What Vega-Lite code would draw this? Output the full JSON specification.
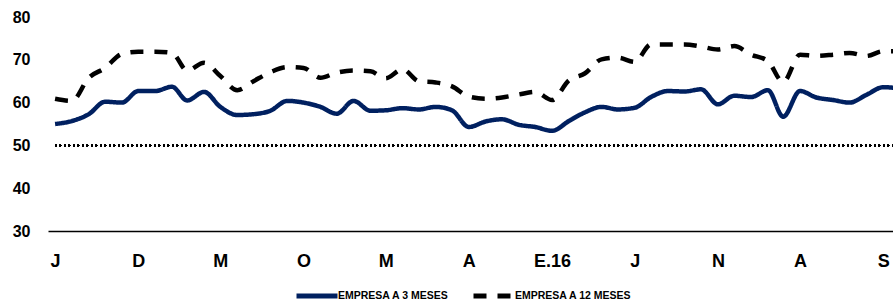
{
  "$schema": "https://vega.github.io/schema/vega-lite/v6.json",
  "width": 845,
  "height": 214,
  "autosize": {"type": "none"},
  "padding": {"left": 48, "top": 17, "right": 0, "bottom": 73},
  "background": "white",
  "config": {
    "view": {"stroke": null},
    "font": "Liberation Sans",
    "axis": {"grid": false, "ticks": false, "labelColor": "black", "labelFontWeight": "bold", "title": null}
  },
  "data": {
    "values": [
      {"mes": "2013/07/01", "EMPRESA A 3 MESES": 55.0, "EMPRESA A 12 MESES": 60.9},
      {"mes": "2013/08/01", "EMPRESA A 3 MESES": 55.7, "EMPRESA A 12 MESES": 60.4},
      {"mes": "2013/09/01", "EMPRESA A 3 MESES": 57.3, "EMPRESA A 12 MESES": 65.8},
      {"mes": "2013/10/01", "EMPRESA A 3 MESES": 60.2, "EMPRESA A 12 MESES": 68.1},
      {"mes": "2013/11/01", "EMPRESA A 3 MESES": 60.0, "EMPRESA A 12 MESES": 71.4},
      {"mes": "2013/12/01", "EMPRESA A 3 MESES": 62.7, "EMPRESA A 12 MESES": 71.9},
      {"mes": "2014/01/01", "EMPRESA A 3 MESES": 62.7, "EMPRESA A 12 MESES": 71.9},
      {"mes": "2014/02/01", "EMPRESA A 3 MESES": 63.7, "EMPRESA A 12 MESES": 71.6},
      {"mes": "2014/03/01", "EMPRESA A 3 MESES": 60.5, "EMPRESA A 12 MESES": 67.5},
      {"mes": "2014/04/01", "EMPRESA A 3 MESES": 62.5, "EMPRESA A 12 MESES": 69.3},
      {"mes": "2014/05/01", "EMPRESA A 3 MESES": 59.0, "EMPRESA A 12 MESES": 66.2},
      {"mes": "2014/06/01", "EMPRESA A 3 MESES": 57.1, "EMPRESA A 12 MESES": 62.9},
      {"mes": "2014/07/01", "EMPRESA A 3 MESES": 57.3, "EMPRESA A 12 MESES": 65.0},
      {"mes": "2014/08/01", "EMPRESA A 3 MESES": 58.1, "EMPRESA A 12 MESES": 67.1},
      {"mes": "2014/09/01", "EMPRESA A 3 MESES": 60.4, "EMPRESA A 12 MESES": 68.3},
      {"mes": "2014/10/01", "EMPRESA A 3 MESES": 60.0, "EMPRESA A 12 MESES": 68.1},
      {"mes": "2014/11/01", "EMPRESA A 3 MESES": 59.0, "EMPRESA A 12 MESES": 65.8},
      {"mes": "2014/12/01", "EMPRESA A 3 MESES": 57.4, "EMPRESA A 12 MESES": 67.0},
      {"mes": "2015/01/01", "EMPRESA A 3 MESES": 60.4, "EMPRESA A 12 MESES": 67.5},
      {"mes": "2015/02/01", "EMPRESA A 3 MESES": 58.1, "EMPRESA A 12 MESES": 67.3},
      {"mes": "2015/03/01", "EMPRESA A 3 MESES": 58.2, "EMPRESA A 12 MESES": 65.7},
      {"mes": "2015/04/01", "EMPRESA A 3 MESES": 58.7, "EMPRESA A 12 MESES": 67.8},
      {"mes": "2015/05/01", "EMPRESA A 3 MESES": 58.4, "EMPRESA A 12 MESES": 65.0},
      {"mes": "2015/06/01", "EMPRESA A 3 MESES": 59.0, "EMPRESA A 12 MESES": 64.7},
      {"mes": "2015/07/01", "EMPRESA A 3 MESES": 58.2, "EMPRESA A 12 MESES": 63.8},
      {"mes": "2015/08/01", "EMPRESA A 3 MESES": 54.3, "EMPRESA A 12 MESES": 61.4},
      {"mes": "2015/09/01", "EMPRESA A 3 MESES": 55.6, "EMPRESA A 12 MESES": 60.9},
      {"mes": "2015/10/01", "EMPRESA A 3 MESES": 56.1, "EMPRESA A 12 MESES": 61.2},
      {"mes": "2015/11/01", "EMPRESA A 3 MESES": 54.8, "EMPRESA A 12 MESES": 61.9},
      {"mes": "2015/12/01", "EMPRESA A 3 MESES": 54.3, "EMPRESA A 12 MESES": 62.5},
      {"mes": "2016/01/01", "EMPRESA A 3 MESES": 53.4, "EMPRESA A 12 MESES": 60.6},
      {"mes": "2016/02/01", "EMPRESA A 3 MESES": 55.7, "EMPRESA A 12 MESES": 65.2},
      {"mes": "2016/03/01", "EMPRESA A 3 MESES": 57.7, "EMPRESA A 12 MESES": 66.8},
      {"mes": "2016/04/01", "EMPRESA A 3 MESES": 59.0, "EMPRESA A 12 MESES": 70.1},
      {"mes": "2016/05/01", "EMPRESA A 3 MESES": 58.4, "EMPRESA A 12 MESES": 70.5},
      {"mes": "2016/06/01", "EMPRESA A 3 MESES": 58.8, "EMPRESA A 12 MESES": 69.5},
      {"mes": "2016/07/01", "EMPRESA A 3 MESES": 61.3, "EMPRESA A 12 MESES": 73.6},
      {"mes": "2016/08/01", "EMPRESA A 3 MESES": 62.7, "EMPRESA A 12 MESES": 73.6},
      {"mes": "2016/09/01", "EMPRESA A 3 MESES": 62.6, "EMPRESA A 12 MESES": 73.6},
      {"mes": "2016/10/01", "EMPRESA A 3 MESES": 63.1, "EMPRESA A 12 MESES": 73.1},
      {"mes": "2016/11/01", "EMPRESA A 3 MESES": 59.6, "EMPRESA A 12 MESES": 72.4},
      {"mes": "2016/12/01", "EMPRESA A 3 MESES": 61.6, "EMPRESA A 12 MESES": 73.2},
      {"mes": "2017/01/01", "EMPRESA A 3 MESES": 61.3, "EMPRESA A 12 MESES": 71.2},
      {"mes": "2017/02/01", "EMPRESA A 3 MESES": 62.9, "EMPRESA A 12 MESES": 69.7},
      {"mes": "2017/03/01", "EMPRESA A 3 MESES": 56.7, "EMPRESA A 12 MESES": 64.8},
      {"mes": "2017/04/01", "EMPRESA A 3 MESES": 62.7, "EMPRESA A 12 MESES": 71.2},
      {"mes": "2017/05/01", "EMPRESA A 3 MESES": 61.2, "EMPRESA A 12 MESES": 70.9},
      {"mes": "2017/06/01", "EMPRESA A 3 MESES": 60.6, "EMPRESA A 12 MESES": 71.2},
      {"mes": "2017/07/01", "EMPRESA A 3 MESES": 60.0, "EMPRESA A 12 MESES": 71.6},
      {"mes": "2017/08/01", "EMPRESA A 3 MESES": 61.8, "EMPRESA A 12 MESES": 70.9},
      {"mes": "2017/09/01", "EMPRESA A 3 MESES": 63.6, "EMPRESA A 12 MESES": 72.0},
      {"mes": "2017/10/01", "EMPRESA A 3 MESES": 63.3, "EMPRESA A 12 MESES": 72.0}
    ]
  },
  "layer": [
    {
      "mark": {"type": "rule", "color": "black", "strokeWidth": 1.5, "strokeDash": [1.5, 3], "clip": true},
      "encoding": {
        "y": {"datum": 50, "type": "quantitative"},
        "x": {"datum": {"year": 2013, "month": 7, "date": 1}, "type": "temporal"},
        "x2": {"datum": {"year": 2017, "month": 10, "date": 1}}
      }
    },
    {
      "transform": [{"fold": ["EMPRESA A 3 MESES", "EMPRESA A 12 MESES"], "as": ["serie", "valor"]}],
      "mark": {"type": "line", "interpolate": "monotone", "strokeWidth": 4.5, "clip": true},
      "encoding": {
        "x": {
          "field": "mes",
          "type": "temporal",
          "scale": {"domain": [{"year": 2013, "month": 6, "date": 18}, {"year": 2017, "month": 9, "date": 19}]},
          "axis": {
            "domainColor": "black",
            "domainWidth": 1.5,
            "labelFontSize": 18,
            "labelBaseline": "middle",
            "labelPadding": 30,
            "labelFlush": false,
            "labelOverlap": false,
            "values": [
              {"year": 2013, "month": 7, "date": 1},
              {"year": 2013, "month": 12, "date": 1},
              {"year": 2014, "month": 5, "date": 1},
              {"year": 2014, "month": 10, "date": 1},
              {"year": 2015, "month": 3, "date": 1},
              {"year": 2015, "month": 8, "date": 1},
              {"year": 2016, "month": 1, "date": 1},
              {"year": 2016, "month": 6, "date": 1},
              {"year": 2016, "month": 11, "date": 1},
              {"year": 2017, "month": 4, "date": 1},
              {"year": 2017, "month": 9, "date": 1}
            ],
            "labelExpr": "month(datum.value) == 0 ? 'E.' + timeFormat(datum.value, '%y') : ['E','F','M','A','M','J','J','A','S','O','N','D'][month(datum.value)]"
          }
        },
        "y": {
          "field": "valor",
          "type": "quantitative",
          "scale": {"domain": [30, 80], "nice": false, "zero": false},
          "axis": {"domain": false, "values": [30, 40, 50, 60, 70, 80], "labelFontSize": 16, "labelPadding": 18}
        },
        "color": {
          "field": "serie",
          "type": "nominal",
          "scale": {"domain": ["EMPRESA A 3 MESES", "EMPRESA A 12 MESES"], "range": ["#002060", "#000000"]},
          "legend": {
            "title": null,
            "orient": "none",
            "legendX": 246,
            "legendY": 256,
            "direction": "horizontal",
            "symbolType": "stroke",
            "symbolSize": 1681,
            "symbolStrokeWidth": 5,
            "labelFontSize": 10.5,
            "labelFontWeight": "bold",
            "labelColor": "black",
            "labelOffset": -2,
            "columnPadding": 14,
            "padding": 0
          }
        },
        "strokeDash": {
          "field": "serie",
          "type": "nominal",
          "scale": {"domain": ["EMPRESA A 3 MESES", "EMPRESA A 12 MESES"], "range": [[1, 0], [13, 11]]},
          "legend": {
            "title": null,
            "orient": "none",
            "legendX": 246,
            "legendY": 256,
            "direction": "horizontal",
            "symbolType": "stroke",
            "symbolSize": 1681,
            "symbolStrokeWidth": 5,
            "labelFontSize": 10.5,
            "labelFontWeight": "bold",
            "labelColor": "black",
            "labelOffset": -2,
            "columnPadding": 14,
            "padding": 0
          }
        }
      }
    }
  ]
}
